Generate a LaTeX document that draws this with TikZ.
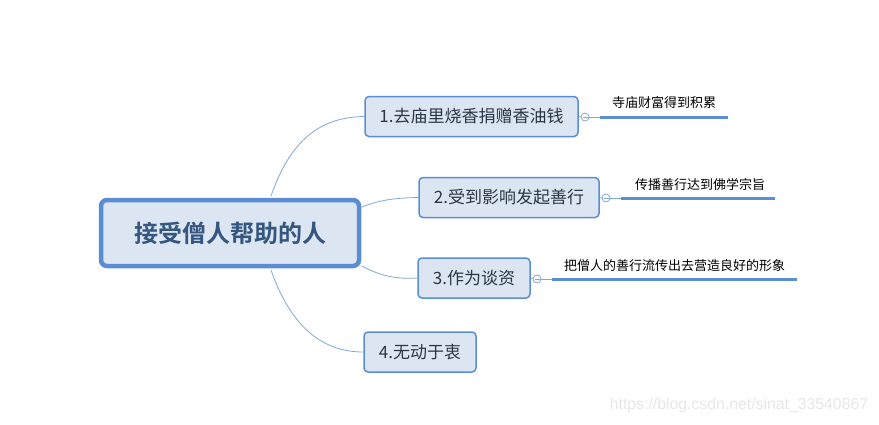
\documentclass[tikz,border=0pt]{standalone}
\usepackage{fontspec}
\usetikzlibrary{calc}
\setmainfont{Noto Sans CJK SC}[BoldFont={Noto Sans CJK SC Bold}]
\newfontfamily\wmfont{Liberation Sans}
\definecolor{boxfill}{HTML}{DCE6F3}
\definecolor{boxline}{HTML}{5B8DD3}
\definecolor{linkcol}{HTML}{7FA7DC}
\definecolor{roottext}{HTML}{34567F}
\definecolor{nodetext}{HTML}{2A3645}
\definecolor{wmcol}{HTML}{E6E6E6}
\begin{document}
\begin{tikzpicture}[x=1pt,y=-1pt,
  rootbox/.style={draw=boxline,line width=4.5pt,fill=boxfill,rounded corners=6pt,
    minimum width=258pt,minimum height=66pt,inner sep=0pt,text=roottext,
    font=\fontsize{24}{28}\selectfont\bfseries},
  topicbox/.style={draw=boxline,line width=1.5pt,fill=boxfill,rounded corners=4pt,
    minimum height=40pt,inner sep=0pt,text=nodetext,font=\fontsize{17}{20}\selectfont},
  link/.style={draw=linkcol,line width=0.8pt},
  collapse/.style={circle,draw=linkcol,line width=0.8pt,fill=white,minimum size=8pt,inner sep=0pt},
  leafline/.style={draw=boxline,line width=3pt},
  leaftext/.style={text=black,inner sep=0pt,font=\fontsize{13}{15}\selectfont}]
\useasboundingbox (0,0) rectangle (879,424);

\node[rootbox] (root) at (230,233) {接受僧人帮助的人};
\node[topicbox,minimum width=213pt] (n1) at (471.5,116.5) {1.去庙里烧香捐赠香油钱};
\node[topicbox,minimum width=180pt] (n2) at (509,197.5) {2.受到影响发起善行};
\node[topicbox,minimum width=112pt] (n3) at (474,278) {3.作为谈资};
\node[topicbox,minimum width=112pt] (n4) at (420,352) {4.无动于衷};

% branch connectors
\coordinate (r1) at (271,196);
\coordinate (r2) at (362,207);
\coordinate (r3) at (362,266);
\coordinate (r4) at (271,270);
\draw[link] (r1) .. controls (292,135) and (325,117) .. (n1.west);
\draw[link] (r2) .. controls (382,199) and (398,198) .. (n2.west);
\draw[link] (r3) .. controls (382,277) and (398,279) .. (n3.west);
\draw[link] (r4) .. controls (292,330) and (325,352) .. (n4.west);

% leaves
\node[collapse] (c1) at (585,117) {};
\node[collapse] (c2) at (606,198) {};
\node[collapse] (c3) at (537,279) {};
\draw[link] (n1.east) -- (c1.west);
\draw[link] (n2.east) -- (c2.west);
\draw[link] (n3.east) -- (c3.west);

\coordinate (s1) at (600,117);
\coordinate (e1) at (728,117);
\coordinate (s2) at (621,198);
\coordinate (e2) at (775,198);
\coordinate (s3) at (552,279);
\coordinate (e3) at (797,279);
\draw[link] (c1.east) -- (s1);
\draw[link] (c2.east) -- (s2);
\draw[link] (c3.east) -- (s3);
\draw[leafline] (s1) -- (e1);
\draw[leafline] (s2) -- (e2);
\draw[leafline] (s3) -- (e3);
\foreach \c in {c1,c2,c3}{\draw[linkcol,line width=0.8pt] ($(\c.center)+(-2.5,0)$) -- ($(\c.center)+(2.5,0)$);}

\node[leaftext] (t1) at (664,103) {寺庙财富得到积累};
\node[leaftext] (t2) at (700,184.5) {传播善行达到佛学宗旨};
\node[leaftext] (t3) at (674.5,265.5) {把僧人的善行流传出去营造良好的形象};

\node[text=wmcol,inner sep=0pt,font=\wmfont\fontsize{15.8}{18}\selectfont] (wm) at (739,405) {https://blog.csdn.net/sinat\_33540867};
\end{tikzpicture}
\end{document}
